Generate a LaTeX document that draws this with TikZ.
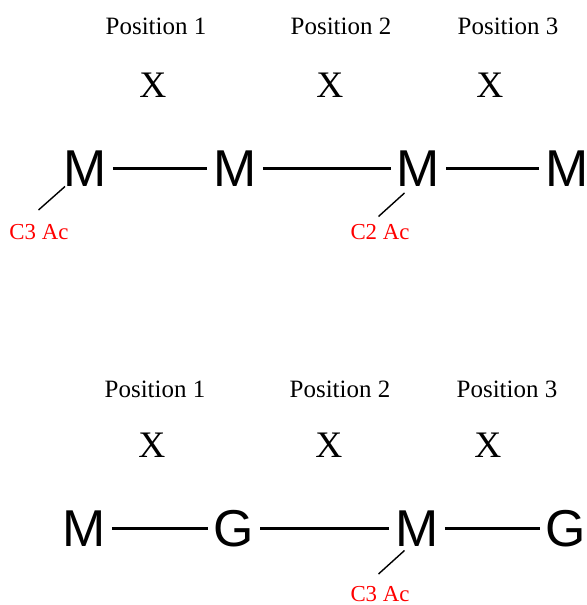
\documentclass[tikz,border=0pt]{standalone}
\usepackage{fontspec}
\setmainfont{Liberation Serif}
\newfontfamily\helv{Liberation Sans}
\usetikzlibrary{positioning}
\definecolor{acred}{RGB}{255,0,0}
\tikzset{
  poslab/.style={anchor=base,inner sep=0pt,font=\fontsize{14.2}{16}\selectfont},
  xmark/.style={anchor=base,inner sep=0pt,font=\fontsize{21.3}{24}\selectfont},
  sugar/.style={anchor=base,inner sep=3.4pt,text height=21pt,text depth=0pt,font=\helv\fontsize{29.5}{32}\selectfont},
  acnote/.style={anchor=base,inner sep=0pt,text=acred,font=\fontsize{13}{15}\selectfont},
  bond/.style={line width=1.7pt},
  acline/.style={line width=0.8pt}
}
\begin{document}
\begin{tikzpicture}
  \useasboundingbox (0,0) rectangle (11.72,12.10);
  \node[poslab] (p1) at (3.12,11.41) {Position 1}; \node[poslab] (p2) at (6.82,11.41) {Position 2}; \node[poslab] (p3) at (10.16,11.41) {Position 3};
  \node[xmark] (x1) at (3.06,10.14) {X}; \node[xmark] (x2) at (6.60,10.14) {X}; \node[xmark] (x3) at (9.80,10.14) {X};
  \node[sugar] (m1) at (1.70,8.37) {M}; \node[sugar] (m2) at (4.70,8.37) {M};
  \node[sugar] (m3) at (8.37,8.37) {M}; \node[sugar] (m4) at (11.34,8.37) {M};
  \draw[bond] (m1) -- (m2); \draw[bond] (m2) -- (m3); \draw[bond] (m3) -- (m4);
  \node[acnote] (c1) at (0.78,7.30) {C3 Ac}; \node[acnote] (c2) at (7.60,7.30) {C2 Ac};
  \draw[acline] ([xshift=-0.40cm]m1.base) -- ([shift={(-0.01,0.60)}]c1.base);
  \draw[acline] ([shift={(-0.28,-0.13)}]m3.base) -- ([shift={(-0.03,0.47)}]c2.base);

  \node[poslab] (bp1) at (3.10,4.15) {Position 1}; \node[poslab] (bp2) at (6.80,4.15) {Position 2}; \node[poslab] (bp3) at (10.14,4.15) {Position 3};
  \node[xmark] (bx1) at (3.04,2.94) {X}; \node[xmark] (bx2) at (6.58,2.94) {X}; \node[xmark] (bx3) at (9.76,2.94) {X};
  \node[sugar] (bm1) at (1.68,1.17) {M}; \node[sugar] (bg2) at (4.68,1.17) {G};
  \node[sugar] (bm3) at (8.34,1.17) {M}; \node[sugar] (bg4) at (11.32,1.17) {G};
  \draw[bond] (bm1) -- (bg2); \draw[bond] (bg2) -- (bm3); \draw[bond] (bm3) -- (bg4);
  \node[acnote] (c3) at (7.60,0.07) {C3 Ac};
  \draw[acline] ([shift={(-0.25,-0.08)}]bm3.base) -- ([shift={(-0.03,0.55)}]c3.base);
\end{tikzpicture}
\end{document}
